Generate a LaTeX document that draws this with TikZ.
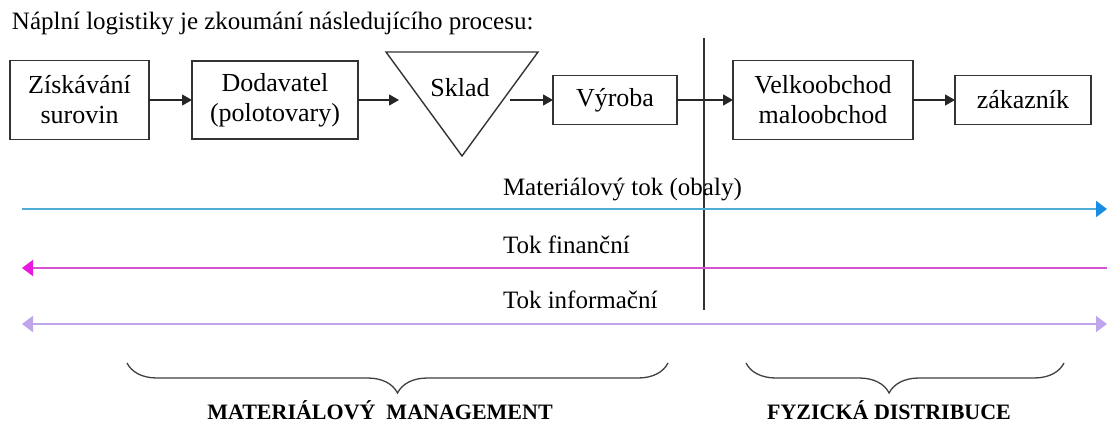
\documentclass[tikz,border=0pt]{standalone}
\usepackage{fontspec}
\setmainfont{LiberationSerif}[Extension=.ttf,UprightFont=*-Regular,BoldFont=*-Bold,ItalicFont=*-Italic,BoldItalicFont=*-BoldItalic]
\usetikzlibrary{
    arrows.meta, % for the triangle arrow tips
    decorations.pathreplacing, % for the two braces at the bottom
    positioning % for placing nodes relative to other nodes
}
\definecolor{matline}{RGB}{80,172,215}
\definecolor{mattip}{RGB}{25,140,228}
\definecolor{finline}{RGB}{212,84,212}
\definecolor{fintip}{RGB}{232,24,222}
\definecolor{infline}{RGB}{192,164,236}

\begin{document}
\begin{tikzpicture}[
    x=1pt,y=-1pt,>={Triangle[length=10pt,width=11pt]},
    every node/.style  = {inner sep=0pt,outer sep=0pt},
    stage/.style       = {draw=black!80,line width=1.4pt,align=center,font=\fontsize{26}{30}\selectfont},
    chain/.style       = {->,line width=1.3pt,draw=black!85},
    flow/.style        = {line width=2pt},
    flow label/.style  = {anchor=base west,font=\fontsize{25}{30}\selectfont},
    part brace/.style  = {decorate,line width=1.3pt,draw=black!75},
    part label/.style  = {anchor=base,font=\bfseries\fontsize{22}{26}\selectfont}
]
\useasboundingbox (0,0) rectangle (1109,423);

% heading
    \node [anchor=base west,font=\fontsize{25}{30}\selectfont] (title) at (12,30)
        {Náplní logistiky je zkoumání následujícího procesu:};

% process chain (top)
    \node [stage,minimum width=139pt,minimum height=79pt] (ziskani)  at (79.5,100) {Získávání\\surovin};
    \node [stage,minimum width=166pt,minimum height=78pt] (dodavatel) at (275,100) {Dodavatel\\(polotovary)};
    \draw [line width=1.4pt,draw=black!80] (386,52) -- (538,52) -- (462,156) -- cycle;
    \node [font=\fontsize{26}{30}\selectfont] (sklad) at (460,88) {Sklad};
    \coordinate (sklad in)  at (399,100);
    \coordinate (sklad out) at (510,100);
    \node [stage,minimum width=124pt,minimum height=49pt] (vyroba)   at (615,100)  {Výroba};
    \node [stage,minimum width=180pt,minimum height=79pt] (obchod)   at (823,100)  {Velkoobchod\\maloobchod};
    \node [stage,minimum width=136pt,minimum height=49pt] (zakaznik) at (1023,100) {zákazník};

    \draw [chain] (ziskani)   -- (dodavatel);
    \draw [chain] (dodavatel) -- (sklad in);
    \draw [chain] (sklad out) -- (vyroba);
    \draw [chain] (vyroba)    -- (obchod);
    \draw [chain] (obchod)    -- (zakaznik);

% divider
    \coordinate (div top) at (704,38);
    \coordinate (div bot) at (704,310);
    \draw [line width=1.3pt,draw=black!80] (div top) -- (div bot);

% flows
    \coordinate (mat west) at (22,209);  \coordinate (mat east) at (1107,209);
    \coordinate (fin west) at (22,268);  \coordinate (fin east) at (1107,268);
    \coordinate (inf west) at (22,324);  \coordinate (inf east) at (1107,324);

    \draw [flow,matline,-{Triangle[length=11pt,width=16pt,color=mattip]}] (mat west) -- (mat east);
    \draw [flow,finline,{Triangle[length=11pt,width=16pt,color=fintip]}-] (fin west) -- (fin east);
    \draw [flow,infline,{Triangle[length=11pt,width=16pt]}-{Triangle[length=11pt,width=16pt]}] (inf west) -- (inf east);

    \node [flow label] (mat label) at (503,195) {Materiálový tok (obaly)};
    \node [flow label] (fin label) at (503,253) {Tok finanční};
    \node [flow label] (inf label) at (503,308) {Tok informační};

% braces (bottom)
    \coordinate (mm west) at (127,363);  \coordinate (mm east) at (668,363);
    \coordinate (fd west) at (746,363);  \coordinate (fd east) at (1064,363);
    \draw [part brace,decoration={brace,mirror,amplitude=30pt}] (mm west) -- (mm east);
    \draw [part brace,decoration={brace,mirror,amplitude=30pt,aspect=0.45}] (fd west) -- (fd east);

    \node [part label] (mm label) at (380,419) {MATERIÁLOVÝ\ \ MANAGEMENT};
    \node [part label] (fd label) at (889,419) {FYZICKÁ DISTRIBUCE};

\end{tikzpicture}
\end{document}
